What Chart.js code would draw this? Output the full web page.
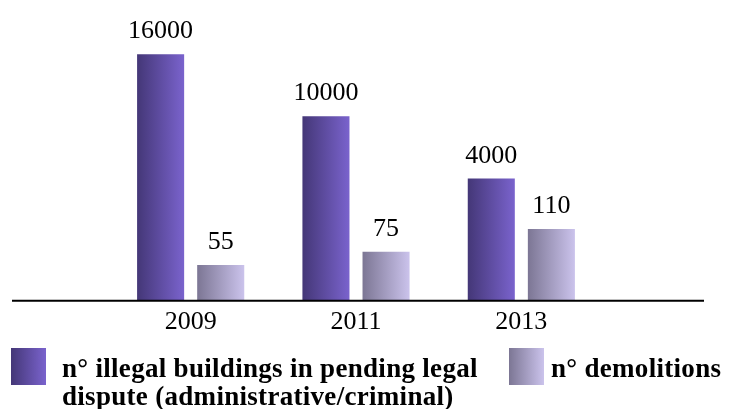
<!DOCTYPE html>
<html>
<head>
<meta charset="utf-8">
<script src="https://cdn.jsdelivr.net/npm/chart.js@4/dist/chart.umd.min.js"></script>
<style>
  html, body { margin: 0; padding: 0; background: #ffffff; }
  #wrap { position: relative; width: 732px; height: 409px; overflow: hidden; }
  #c { position: absolute; left: 0; top: 0; }
  .leg { position: absolute; top: 348px; font-family: "Liberation Serif", "DejaVu Serif", serif; font-weight: bold; font-size: 27px; line-height: 28px; letter-spacing: 0.3px; color: #000; }
  .box { position: absolute; width: 35px; height: 37px; }
</style>
</head>
<body>
<div id="wrap">
  <canvas id="c" width="732" height="409"></canvas>
  <div id="legend"></div>
</div>
<script>
// ---- data ----
const categories = ['2009', '2011', '2013'];
const buildingsLabel = 'n° illegal buildings in pending legal dispute (administrative/criminal)';
const buildingsValues = [16000, 10000, 4000];
const demolitionsLabel = 'n° demolitions';
const demolitionsValues = [55, 75, 110];

// ---- styles ----
const buildingsColors = ['#443777', '#7a63cd'];
const demolitionsColors = ['#7c7694', '#cbc3ec'];
const serif = '"Liberation Serif", "DejaVu Serif", serif';

function gradientFill(colors) {
  return function (ctx) {
    const chart = ctx.chart;
    const meta = chart.getDatasetMeta(ctx.datasetIndex);
    const el = meta && meta.data ? meta.data[ctx.dataIndex] : null;
    if (!el || !isFinite(el.x) || !isFinite(el.width) || !el.width) return colors[1];
    const g = chart.ctx.createLinearGradient(el.x - el.width / 2, 0, el.x + el.width / 2, 0);
    g.addColorStop(0, colors[0]);
    g.addColorStop(1, colors[1]);
    return g;
  };
}

const valueLabels = {
  id: 'valueLabels',
  afterDatasetsDraw(chart) {
    const c = chart.ctx;
    c.save();
    c.font = '26px ' + serif;
    c.fillStyle = '#000';
    c.textAlign = 'center';
    c.textBaseline = 'alphabetic';
    chart.data.datasets.forEach((ds, di) => {
      chart.getDatasetMeta(di).data.forEach((el, i) => {
        c.fillText(String(ds.data[i]), el.x, el.y - 16);
      });
    });
    c.restore();
  }
};

const baseLine = {
  id: 'baseLine',
  afterDatasetsDraw(chart) {
    const c = chart.ctx;
    const y = chart.chartArea.bottom;
    c.save();
    c.strokeStyle = '#000';
    c.lineWidth = 2;
    c.beginPath();
    c.moveTo(12, y);
    c.lineTo(704, y);
    c.stroke();
    c.restore();
  }
};

const chart = new Chart(document.getElementById('c'), {
  type: 'bar',
  data: {
    labels: categories,
    datasets: [
      {
        label: buildingsLabel,
        data: buildingsValues,
        yAxisID: 'y',
        base: -7800,
        backgroundColor: gradientFill(buildingsColors),
        borderWidth: 0,
        categoryPercentage: 0.727,
        barPercentage: 0.783
      },
      {
        label: demolitionsLabel,
        data: demolitionsValues,
        yAxisID: 'y2',
        base: 0,
        backgroundColor: gradientFill(demolitionsColors),
        borderWidth: 0,
        categoryPercentage: 0.727,
        barPercentage: 0.783
      }
    ]
  },
  options: {
    responsive: false,
    animation: false,
    events: [],
    layout: { padding: { left: 108, right: 128, top: 20, bottom: 65 } },
    plugins: { legend: { display: false }, tooltip: { enabled: false } },
    scales: {
      x: {
        grid: { display: false, drawTicks: false },
        border: { display: false },
        ticks: { color: '#000', font: { family: serif, size: 26 }, padding: 6, maxRotation: 0 }
      },
      y: { display: false, min: -7800, max: 19300 },
      y2: { display: false, min: 0, max: 430 }
    }
  },
  plugins: [valueLabels, baseLine]
});
chart.update();

// ---- HTML legend built from the datasets ----
const legend = document.getElementById('legend');
const legendItems = [
  { text: buildingsLabel, colors: buildingsColors, boxLeft: 11, textLeft: 62, width: 440 },
  { text: demolitionsLabel, colors: demolitionsColors, boxLeft: 509, textLeft: 551, width: 181 }
];
legendItems.forEach(it => {
  const b = document.createElement('div');
  b.className = 'leg box';
  b.style.left = it.boxLeft + 'px';
  b.style.background = 'linear-gradient(to right, ' + it.colors[0] + ', ' + it.colors[1] + ')';
  legend.appendChild(b);
  const t = document.createElement('div');
  t.className = 'leg';
  t.style.left = it.textLeft + 'px';
  t.style.top = '354px';
  t.style.width = it.width + 'px';
  t.textContent = it.text;
  legend.appendChild(t);
});
</script>
</body>
</html>
